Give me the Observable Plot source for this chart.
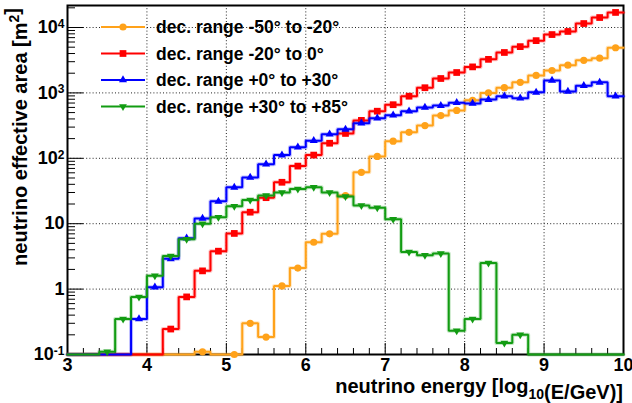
<!DOCTYPE html>
<html><head><meta charset="utf-8">
<script src="https://cdn.jsdelivr.net/npm/d3@7"></script>
<script src="https://cdn.jsdelivr.net/npm/@observablehq/plot@0.6"></script>
<style>
body{margin:0;background:#fff;}
#wrap{position:relative;width:632px;height:403px;}
</style></head><body><div id="wrap"></div>
<script>
// log10(E/GeV) bin centres, bin width 0.2
const binCenters = [3.1,3.3,3.5,3.7,3.9,4.1,4.3,4.5,4.7,4.9,5.1,5.3,5.5,5.7,5.9,6.1,6.3,6.5,6.7,6.9,7.1,7.3,7.5,7.7,7.9,8.1,8.3,8.5,8.7,8.9,9.1,9.3,9.5,9.7,9.9];
const binWidth = 0.2;

const seriesNames = ["dec. range -50° to -20°","dec. range -20° to 0°","dec. range +0° to +30°","dec. range +30° to +85°"];
const seriesColors = ["#ffa21a","#ff0000","#0000ff","#129c12"];

const areaM50toM20 = [0,0,0,0,0,0,0,0,0.11,0,0.1,0.30,0.185,1.12,2.1,5.2,7.0,27,61,107,183,250,316,450,540,770,1000,1200,1450,1850,2200,2650,3150,3400,4900];
const areaM20to0   = [0,0,0,0,0,0,0.245,0.76,1.9,3.8,7.1,15,25,43,76,112,170,240,380,525,660,890,1200,1660,2050,2500,3260,4150,5100,6300,7800,8700,11500,14200,17000];
const areaP0toP30  = [0,0,0,0,0.35,1.07,2.9,6.0,12.0,22,36,51,81,112,148,186,233,277,345,410,455,525,600,640,710,690,790,890,830,1020,1550,1050,1290,1450,890];
const areaP30toP85 = [0,0,0.11,0.35,0.76,1.6,3.2,5.8,10,12.6,18.5,23,27,30,34,36,30,26,19,17.5,11.7,3.7,3.3,3.5,0.23,0.35,2.5,0.15,0.20,0,0,0,0,0,0];

const xTicks = [3,4,5,6,7,8,9,10];
const yTicks = [0.1,1,10,100,1000,10000];
const yTickLabels = ["10^-1","1","10","10^2","10^3","10^4"];
const xTitle = "neutrino energy [log|10|(E/GeV)]";
const yTitle = "neutrino effective area [m^2^]";

const yMin = 0.1, yMax = 21700, xMin = 3, xMax = 10;
const W = 632, H = 403, mL = 67, mR = 9, mT = 5, mB = 49;
const plotW = W - mL - mR, plotH = H - mT - mB;

const triangleDown = {draw(ctx, size){ const y = -Math.sqrt(size / (Math.sqrt(3) * 3)); const s = Math.sqrt(3);
  ctx.moveTo(0, -y * 2); ctx.lineTo(-s * y, y); ctx.lineTo(s * y, y); ctx.closePath(); }};
const symbols = ["circle","square","triangle",triangleDown];
const radii = [3.6, 3.8, 3.0, 2.9];
const seriesValues = [areaM50toM20, areaM20to0, areaP0toP30, areaP30toP85];

// minor ticks
const yMinor = [];
for (let e = -1; e <= 4; e++) for (let k = 2; k <= 9; k++) { const v = k * Math.pow(10, e); if (v < yMax) yMinor.push(v); }
const xMinor = d3.range(0, 36).map(i => +(xMin + i * 0.2).toFixed(1)).filter(v => !xTicks.includes(v));

const marks = [
  Plot.ruleX(xTicks.slice(1, -1), {stroke: "#222", strokeWidth: 1, strokeDasharray: "1,2.2"}),
  Plot.ruleY(yTicks.slice(1), {stroke: "#222", strokeWidth: 1, strokeDasharray: "1,2.2"}),
  Plot.ruleY(yMinor, {stroke: "#000", strokeWidth: 1, insetRight: plotW - 8}),
  Plot.ruleY(yTicks, {stroke: "#000", strokeWidth: 1, insetRight: plotW - 16}),
  Plot.ruleX(xMinor, {stroke: "#000", strokeWidth: 1, insetTop: plotH - 6}),
  Plot.ruleX(xTicks, {stroke: "#000", strokeWidth: 1, insetTop: plotH - 11}),
  Plot.frame({stroke: "#000", strokeWidth: 2}),
  Plot.axisX({ticks: xTicks, tickFormat: d => String(d), tickSize: 0, tickPadding: 4, label: null, fontSize: 18, fontWeight: "bold"}),
  Plot.axisY({ticks: yTicks, tickFormat: d => yTickLabels[yTicks.indexOf(d)], tickSize: 0, tickPadding: 3, label: null, fontSize: 18, fontWeight: "bold"})
];

seriesValues.forEach((vals, s) => {
  const pts = binCenters.map((c, i) => ({x: c - binWidth / 2, y: Math.max(vals[i], yMin)}));
  pts.push({x: binCenters[binCenters.length - 1] + binWidth / 2, y: Math.max(vals[vals.length - 1], yMin)});
  const dots = binCenters.map((c, i) => ({x: c, y: vals[i]})).filter(d => d.y >= yMin);
  marks.push(Plot.line(pts, {x: "x", y: "y", curve: "step-after", stroke: seriesColors[s], strokeWidth: 4, strokeOpacity: 0.25}));
  marks.push(Plot.line(pts, {x: "x", y: "y", curve: "step-after", stroke: seriesColors[s], strokeWidth: 2, strokeLinejoin: "miter"}));
  marks.push(Plot.dot(dots, {x: "x", y: "y", symbol: symbols[s], r: radii[s], fill: seriesColors[s], stroke: "none"}));
});

const chart = Plot.plot({
  width: W, height: H, marginLeft: mL, marginRight: mR, marginTop: mT, marginBottom: mB,
  style: {fontFamily: '"Liberation Sans", Arial, sans-serif', fontWeight: "bold", fontSize: "18px", background: "#fff", color: "#000", overflow: "visible"},
  x: {domain: [xMin, xMax]},
  y: {type: "log", domain: [yMin, yMax]},
  marks
});
document.getElementById("wrap").appendChild(chart);

const svg = d3.select(chart);
// superscripts in y tick labels
svg.selectAll('[aria-label="y-axis tick label"] text').each(function () {
  const t = d3.select(this); const s = t.text();
  if (s.includes("^")) {
    const [base, sup] = s.split("^");
    t.text(null);
    t.append("tspan").text(base);
    t.append("tspan").attr("font-size", 12).attr("dy", "-0.45em").text(sup);
  }
});

function richText(sel, str, small) {
  // |..| subscript, ^..^ superscript
  const parts = str.split(/(\|[^|]*\||\^[^^]*\^)/).filter(p => p.length);
  parts.forEach(p => {
    if (p[0] === "|") { sel.append("tspan").attr("font-size", small).attr("dy", 6).text(p.slice(1, -1)); sel.append("tspan").attr("dy", -6).text(""); }
    else if (p[0] === "^") { sel.append("tspan").attr("font-size", small).attr("dy", -8).text(p.slice(1, -1)); sel.append("tspan").attr("dy", 8).text(""); }
    else sel.append("tspan").text(p);
  });
}
const titles = svg.append("g").attr("font-family", '"Liberation Sans", Arial, sans-serif').attr("font-weight", "bold").attr("font-size", 20).attr("fill", "#000");
richText(titles.append("text").attr("x", W - mR).attr("y", 393).attr("text-anchor", "end"), xTitle, 14);
richText(titles.append("text").attr("transform", "translate(27,8) rotate(-90)").attr("text-anchor", "end"), yTitle, 14);

// legend
const lg = svg.append("g").attr("font-family", '"Liberation Sans", Arial, sans-serif').attr("font-weight", "bold").attr("font-size", 17.5).attr("text-anchor", "start");
const legY = [27, 53.5, 80, 106.5];
seriesNames.forEach((name, s) => {
  const y = legY[s];
  lg.append("line").attr("x1", 101).attr("x2", 145).attr("y1", y).attr("y2", y).attr("stroke", seriesColors[s]).attr("stroke-width", 2);
  const r = radii[s];
  const sym = typeof symbols[s] === "string" ? {circle: d3.symbolCircle, square: d3.symbolSquare, triangle: d3.symbolTriangle}[symbols[s]] : symbols[s];
  lg.append("path").attr("transform", `translate(123,${y})`).attr("d", d3.symbol(sym, r * r * Math.PI)()).attr("fill", seriesColors[s]);
  lg.append("text").attr("x", 156).attr("y", y).attr("dy", "0.36em").attr("fill", "#000").attr("text-anchor", "start").text(name);
});
</script></body></html>
